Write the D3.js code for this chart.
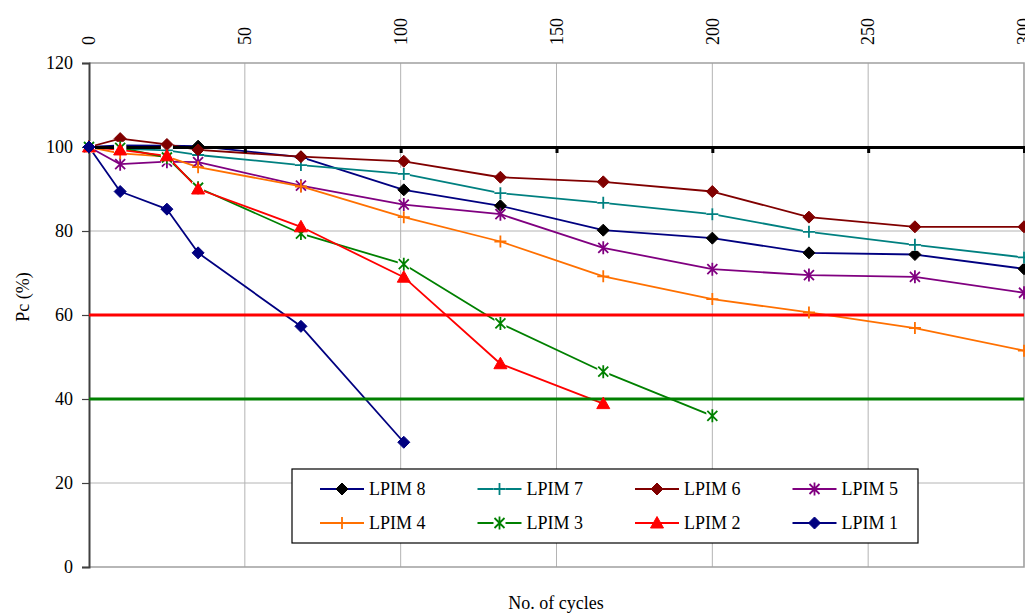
<!DOCTYPE html>
<html>
<head>
<meta charset="utf-8">
<script src="https://cdn.jsdelivr.net/npm/d3@7"></script>
<style>
  html, body { margin: 0; padding: 0; background: #fff; }
  svg { display: block; }
  text { font-family: "Liberation Serif", "DejaVu Serif", serif; fill: #000; }
</style>
</head>
<body>
<svg id="chart" width="1025" height="614"></svg>
<script>
// Number of cycles at which Pc was measured
const cycles = [0, 10, 25, 35, 68, 101, 132, 165, 200, 231, 265, 300];

// Pc (%) for each mix
const lpim8 = [100, 100.4, 100.3, 100.2, 97.6, 89.8, 86.0, 80.2, 78.3, 74.8, 74.4, 71.0];
const lpim7 = [100, 99.6, 99.2, 98.1, 95.7, 93.6, 89.0, 86.7, 84.0, 79.8, 76.7, 73.7];
const lpim6 = [100, 102.0, 100.6, 99.3, 97.7, 96.6, 92.8, 91.7, 89.4, 83.3, 81.0, 81.0];
const lpim5 = [100, 95.9, 96.5, 96.4, 90.8, 86.3, 84.0, 76.0, 70.9, 69.5, 69.1, 65.3];
const lpim4 = [100, 98.5, 97.7, 95.2, 90.6, 83.3, 77.5, 69.2, 63.8, 60.6, 56.9, 51.5];
const lpim3 = [100, 99.8, 97.5, 90.3, 79.4, 72.1, 58.0, 46.5, 36.0];
const lpim2 = [100, 99.3, 97.9, 90.0, 81.0, 69.0, 48.4, 38.9];
const lpim1 = [100, 89.4, 85.2, 74.8, 57.3, 29.7];

const seriesNames = ["LPIM 8", "LPIM 7", "LPIM 6", "LPIM 5", "LPIM 4", "LPIM 3", "LPIM 2", "LPIM 1"];
const seriesValues = [lpim8, lpim7, lpim6, lpim5, lpim4, lpim3, lpim2, lpim1];

// Threshold lines (Pc %)
const thresholds = [
  { value: 60, color: "#ff0000" },
  { value: 40, color: "#008000" }
];

const xTicks = [0, 50, 100, 150, 200, 250, 300];
const yTicks = [0, 20, 40, 60, 80, 100, 120];

// Appearance per series
const styles = [
  { line: "#000080", marker: "diamond", mfill: "#000000", mstroke: "#000000", gap: false },
  { line: "#008080", marker: "plus",    mfill: "none",    mstroke: "#008080", gap: true },
  { line: "#800000", marker: "diamond", mfill: "#800000", mstroke: "#800000", gap: false },
  { line: "#800080", marker: "star",    mfill: "none",    mstroke: "#800080", gap: false },
  { line: "#ff7000", marker: "plus",    mfill: "none",    mstroke: "#ff7000", gap: false },
  { line: "#008000", marker: "star",    mfill: "none",    mstroke: "#008000", gap: true },
  { line: "#ff0000", marker: "triangle",mfill: "#ff0000", mstroke: "#ff0000", gap: false },
  { line: "#000080", marker: "diamond", mfill: "#000080", mstroke: "#000080", gap: false }
];

const series = seriesNames.map((name, i) => ({
  name,
  style: styles[i],
  points: seriesValues[i].map((v, j) => ({ x: cycles[j], y: v }))
}));

const svg = d3.select("#chart");
const x = d3.scaleLinear().domain([0, 300]).range([89, 1024]);
const y = d3.scaleLinear().domain([0, 120]).range([567, 63]);

// Gridlines
const grid = svg.append("g");
grid.selectAll("line.v").data(xTicks.filter(t => t > 0 && t < 300)).join("line")
  .attr("x1", d => x(d)).attr("x2", d => x(d))
  .attr("y1", y(120)).attr("y2", y(0))
  .attr("stroke", "#b4b4b4").attr("stroke-width", 1);
grid.selectAll("line.h").data(yTicks.filter(t => t > 0 && t < 120)).join("line")
  .attr("x1", x(0)).attr("x2", x(300))
  .attr("y1", d => y(d)).attr("y2", d => y(d))
  .attr("stroke", "#b4b4b4").attr("stroke-width", 1);

// Plot border (top, right, bottom)
grid.append("path")
  .attr("d", `M${x(0)},${y(120)}H${x(300)}V${y(0)}H${x(0)}`)
  .attr("fill", "none").attr("stroke", "#a0a0a0").attr("stroke-width", 1.6);

// Y axis
const yAxis = svg.append("g")
  .attr("transform", `translate(${x(0)},0)`)
  .call(d3.axisLeft(y).tickValues(yTicks).tickSize(7).tickPadding(9));
yAxis.select(".domain").attr("stroke", "#404040").attr("stroke-width", 2);
yAxis.selectAll(".tick line").attr("stroke", "#404040").attr("stroke-width", 1.2);
yAxis.selectAll(".tick text")
  .style("font-family", '"Liberation Serif", serif').style("font-size", "18px").attr("fill", "#000");

// Series lines
const line = d3.line().x(d => x(d.x)).y(d => y(d.y));
svg.append("g").selectAll("path").data(series).join("path")
  .attr("d", d => line(d.points))
  .attr("fill", "none")
  .attr("stroke", d => d.style.line)
  .attr("stroke-width", 1.8)
  .attr("stroke-linejoin", "round");

// Threshold lines
svg.append("g").selectAll("line").data(thresholds).join("line")
  .attr("x1", x(0)).attr("x2", x(300))
  .attr("y1", d => y(d.value)).attr("y2", d => y(d.value))
  .attr("stroke", d => d.color).attr("stroke-width", 3);

// X axis crossing at Pc = 100, ticks below, labels at the top
const xAxis = svg.append("g")
  .attr("transform", `translate(0,${y(100)})`)
  .call(d3.axisBottom(x).tickValues(xTicks).tickSize(6).tickFormat(""));
xAxis.select(".domain").attr("stroke", "#000").attr("stroke-width", 3);
xAxis.selectAll(".tick line").attr("stroke", "#000").attr("stroke-width", 3);

svg.append("g").selectAll("text").data(xTicks).join("text")
  .attr("transform", d => `translate(${x(d)},45) rotate(-90)`)
  .attr("dy", "0.35em")
  .attr("text-anchor", "start")
  .style("font-size", "18px")
  .text(d => d);

// Marker shapes
function markerPath(kind) {
  switch (kind) {
    case "diamond": return "M0,-6L6,0L0,6L-6,0Z";
    case "triangle": return "M0,-6.5L6.5,5L-6.5,5Z";
    case "plus": return "M-6,0H6M0,-6V6";
    case "star": return "M-5,-5L5,5M-5,5L5,-5M0,-6.5V6.5";
  }
}

function drawMarker(g, st) {
  if (st.gap) {
    g.append("rect").attr("x", -6).attr("y", -6).attr("width", 12).attr("height", 12)
      .attr("fill", "#fff");
  }
  g.append("path")
    .attr("d", markerPath(st.marker))
    .attr("fill", st.mfill)
    .attr("stroke", st.mstroke)
    .attr("stroke-width", st.marker === "plus" || st.marker === "star" ? 1.8 : 1);
}

const markerLayer = svg.append("g");
series.forEach(s => {
  s.points.forEach(p => {
    const g = markerLayer.append("g").attr("transform", `translate(${x(p.x)},${y(p.y)})`);
    drawMarker(g, s.style);
  });
});

// Legend
const legend = svg.append("g");
legend.append("rect")
  .attr("x", 292).attr("y", 469).attr("width", 626).attr("height", 74)
  .attr("fill", "#fff").attr("stroke", "#000").attr("stroke-width", 1.2);

const legendItems = legend.selectAll("g.item").data(series).join("g")
  .attr("class", "item")
  .attr("transform", (d, i) => `translate(${320 + (i % 4) * 157.5},${i < 4 ? 489 : 523})`);

legendItems.each(function (d) {
  const g = d3.select(this);
  g.append("line").attr("x1", 0).attr("x2", 44).attr("y1", 0).attr("y2", 0)
    .attr("stroke", d.style.line).attr("stroke-width", 2);
  const m = g.append("g").attr("transform", "translate(22,0)");
  drawMarker(m, d.style);
  g.append("text").attr("x", 49).attr("y", 0).attr("dy", "0.35em")
    .style("font-size", "18px").text(d.name);
});

// Axis titles
svg.append("text")
  .attr("transform", "translate(23,297) rotate(-90)")
  .attr("text-anchor", "middle").attr("dy", "0.35em")
  .style("font-size", "18px")
  .text("Pc (%)");

svg.append("text")
  .attr("x", 556).attr("y", 603).attr("dy", "0.35em")
  .attr("text-anchor", "middle")
  .style("font-size", "18px")
  .text("No. of cycles");
</script>
</body>
</html>
